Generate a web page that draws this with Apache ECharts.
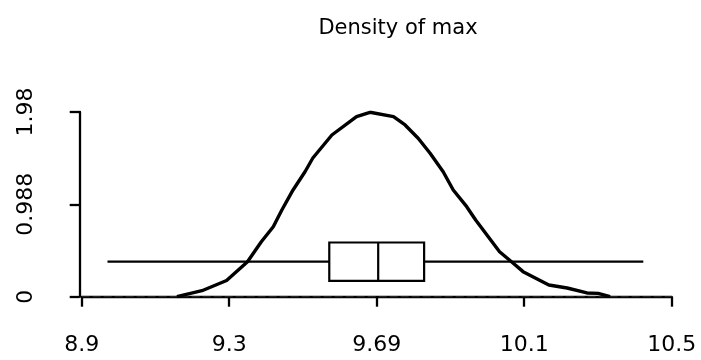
<!DOCTYPE html>
<html><head><meta charset="utf-8">
<script src="https://cdn.jsdelivr.net/npm/echarts@6.0.0/dist/echarts.min.js"></script>
<style>html,body{margin:0;padding:0;background:#fff}#c{width:701px;height:360px}</style>
</head><body><div id="c"></div>
<script>
const titleText = 'Density of max';
const densityX = [9.155, 9.222, 9.288, 9.344, 9.381, 9.413, 9.436, 9.466, 9.498, 9.519, 9.570, 9.636, 9.672, 9.735, 9.766, 9.801, 9.833, 9.868, 9.895, 9.931, 9.955, 10.019, 10.051, 10.082, 10.151, 10.200, 10.253, 10.283, 10.315];
const densityY = [0.000, 0.064, 0.173, 0.374, 0.588, 0.749, 0.928, 1.142, 1.337, 1.484, 1.730, 1.926, 1.973, 1.926, 1.837, 1.695, 1.534, 1.337, 1.142, 0.963, 0.821, 0.481, 0.374, 0.268, 0.125, 0.093, 0.040, 0.036, 0.000];
const boxStats = [8.969, 9.563, 9.694, 9.817, 10.404]; // low whisker, Q1, median, Q3, high whisker
const xTickValues = [8.9, 9.295, 9.69, 10.085, 10.48];
const xTickLabels = ['8.9', '9.3', '9.69', '10.1', '10.5'];
const yTickValues = [0, 0.988, 1.976];
const yTickLabels = ['0', '0.988', '1.98'];

const xMin = xTickValues[0], xMax = xTickValues[xTickValues.length - 1];
const yMin = yTickValues[0], yMax = yTickValues[yTickValues.length - 1];
const FONT = 'DejaVu Sans';
function lookup(vals, labels) {
  return function (v) {
    const i = vals.findIndex(t => Math.abs(t - v) < 1e-6);
    return i >= 0 ? labels[i] : '';
  };
}
const densityData = densityX.map((x, i) => [x, densityY[i]]);
const baselineData = [[xMin, 0], [xMax, 0]];

const chart = echarts.init(document.getElementById('c'), null, {renderer: 'canvas'});
const BOX_Y = 0.375, BOX_HALF = 0.205;
chart.setOption({
  animation: false,
  backgroundColor: '#fff',
  title: {
    text: titleText, left: 393, top: 13, textAlign: 'center',
    textStyle: {fontFamily: FONT, fontSize: 21, fontWeight: 'normal', color: '#000'}
  },
  grid: {left: 81.7, right: 29.3, top: 112, bottom: 63.3, containLabel: false},
  xAxis: {
    type: 'value', min: xMin, max: xMax, offset: 2,
    axisLine: {show: true, lineStyle: {color: '#000', width: 2.3}},
    axisTick: {show: true, length: 10, lineStyle: {color: '#000', width: 2.3}, customValues: xTickValues},
    axisLabel: {
      show: true, margin: 36, customValues: xTickValues, formatter: lookup(xTickValues, xTickLabels),
      fontFamily: FONT, fontSize: 22, color: '#000'
    },
    splitLine: {show: false}
  },
  yAxis: {
    type: 'value', min: yMin, max: yMax, offset: 2,
    axisLine: {show: true, lineStyle: {color: '#000', width: 2.3}},
    axisTick: {show: true, length: 10, lineStyle: {color: '#000', width: 2.3}, customValues: yTickValues},
    axisLabel: {
      show: true, rotate: 90, margin: 42, customValues: yTickValues, formatter: lookup(yTickValues, yTickLabels),
      fontFamily: FONT, fontSize: 22, color: '#000'
    },
    splitLine: {show: false}
  },
  series: [
    {
      type: 'line', data: baselineData, showSymbol: false, silent: true,
      lineStyle: {color: '#222', width: 1.6, type: [8, 3]}, z: 1
    },
    {
      type: 'line', data: densityData, showSymbol: false, smooth: false,
      lineStyle: {color: '#000', width: 3.4}, z: 3
    },
    {
      type: 'custom', data: [boxStats], z: 2,
      renderItem: function (params, api) {
        const lo = api.value(0), q1 = api.value(1), med = api.value(2), q3 = api.value(3), hi = api.value(4);
        const pLo = api.coord([lo, BOX_Y]), pQ1 = api.coord([q1, BOX_Y]);
        const pQ3 = api.coord([q3, BOX_Y]), pHi = api.coord([hi, BOX_Y]);
        const tL = api.coord([q1, BOX_Y + BOX_HALF]), bR = api.coord([q3, BOX_Y - BOX_HALF]);
        const mT = api.coord([med, BOX_Y + BOX_HALF]), mB = api.coord([med, BOX_Y - BOX_HALF]);
        const st = {stroke: '#000', lineWidth: 2.4, fill: null};
        return {
          type: 'group',
          children: [
            {type: 'line', shape: {x1: pLo[0], y1: pLo[1], x2: pQ1[0], y2: pQ1[1]}, style: st},
            {type: 'line', shape: {x1: pQ3[0], y1: pQ3[1], x2: pHi[0], y2: pHi[1]}, style: st},
            {type: 'rect', shape: {x: tL[0], y: tL[1], width: bR[0] - tL[0], height: bR[1] - tL[1]}, style: {stroke: '#000', lineWidth: 2.2, fill: '#fff'}},
            {type: 'line', shape: {x1: mT[0], y1: mT[1], x2: mB[0], y2: mB[1]}, style: {stroke: '#000', lineWidth: 2.2}}
          ]
        };
      }
    }
  ]
});
</script>
</body></html>
